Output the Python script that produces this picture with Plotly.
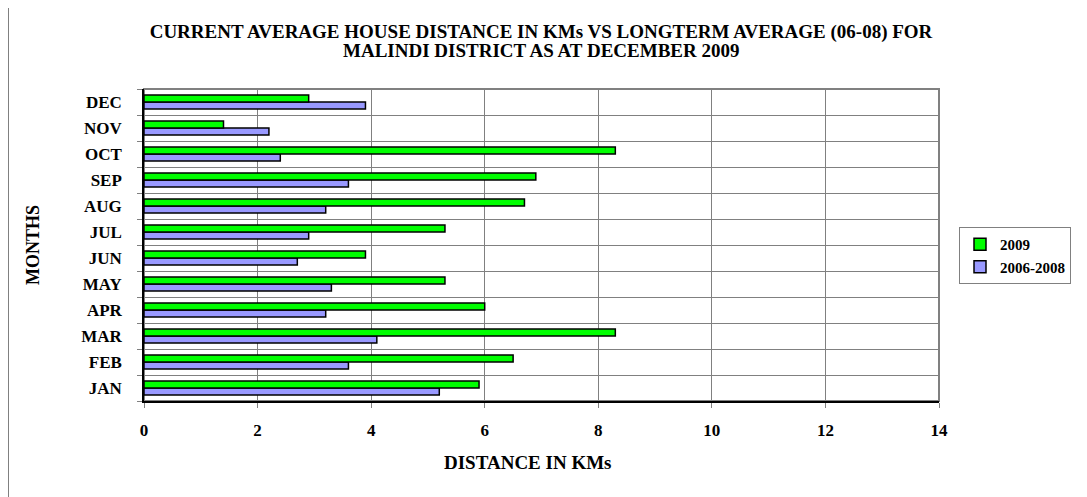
import plotly.graph_objects as go

months = ["JAN", "FEB", "MAR", "APR", "MAY", "JUN", "JUL", "AUG", "SEP", "OCT", "NOV", "DEC"]
y2009 = [5.9, 6.5, 8.3, 6.0, 5.3, 3.9, 5.3, 6.7, 6.9, 8.3, 1.4, 2.9]
y0608 = [5.2, 3.6, 4.1, 3.2, 3.3, 2.7, 2.9, 3.2, 3.6, 2.4, 2.2, 3.9]
xticks = [0, 2, 4, 6, 8, 10, 12, 14]

title_lines = ["CURRENT AVERAGE HOUSE DISTANCE IN KMs VS LONGTERM AVERAGE (06-08) FOR",
               "MALINDI DISTRICT AS AT DECEMBER 2009"]

FONT = "Liberation Serif"
pos = list(range(len(months)))

# page has an 8px body margin: plot area should land at x 144..939, y 89..401
W, H = 1079, 489
L, T = 136, 81
PW, PH = 795, 312

fig = go.Figure()
fig.add_trace(go.Bar(
    y=pos, x=y0608, orientation="h", name="<b>2006-2008</b>",
    marker=dict(color="#9999FF", line=dict(color="black", width=1.5)),
    legendrank=2,
))
fig.add_trace(go.Bar(
    y=pos, x=y2009, orientation="h", name="<b>2009</b>",
    marker=dict(color="#00FF00", line=dict(color="black", width=1.5)),
    legendrank=1,
))

fig.update_layout(
    width=W, height=H,
    margin=dict(l=L, r=W - L - PW, t=T, b=H - T - PH),
    paper_bgcolor="white", plot_bgcolor="white",
    barmode="group", bargap=0.46, bargroupgap=0,
    font=dict(family=FONT, color="black"),
    title=dict(text="<b>" + title_lines[0] + "</b>", x=(541 - 8) / W, xanchor="center",
               y=1 - (31 - 8) / H, yanchor="middle", font=dict(size=19, family=FONT)),
    legend=dict(x=(959 - 144) / PW, xanchor="left", y=(401 - 227) / PH, yanchor="top",
                bordercolor="#808080", borderwidth=1,
                font=dict(size=15, family=FONT), traceorder="normal",
                itemwidth=30),
    showlegend=True,
)

fig.add_annotation(text="<b>" + title_lines[1] + "</b>", xref="paper", yref="paper",
                   x=(541 - 144) / PW, y=(401 - 50) / PH, xanchor="center", yanchor="middle",
                   showarrow=False, font=dict(size=19, family=FONT))

fig.update_xaxes(
    range=[0, 14], tickvals=xticks, ticktext=["<b>%d</b>" % v for v in xticks],
    showgrid=True, gridcolor="#808080", gridwidth=1,
    showline=True, linecolor="black", linewidth=1.5,
    ticks="outside", ticklen=5, tickcolor="#808080",
    tickfont=dict(size=17, family=FONT), ticklabelstandoff=8,
    zeroline=False,
)
fig.update_yaxes(
    range=[-0.5, 11.5], tickvals=pos, ticktext=["<b>%s</b>" % m for m in months],
    showgrid=False, ticks="", tickfont=dict(size=17, family=FONT),
    ticklabelstandoff=17,
    showline=True, linecolor="black", linewidth=1.5, zeroline=False,
    minor=dict(tick0=0.5, dtick=1, showgrid=True, gridcolor="#808080", gridwidth=1,
               ticks="outside", ticklen=5, tickcolor="#808080"),
)

# axis titles
fig.add_annotation(text="<b>DISTANCE IN KMs</b>", xref="paper", yref="paper",
                   x=(528 - 144) / PW, y=(401 - 462) / PH, xanchor="center", yanchor="middle",
                   showarrow=False, font=dict(size=19, family=FONT))
fig.add_annotation(text="<b>MONTHS</b>", xref="paper", yref="paper",
                   x=(33 - 144) / PW, y=0.5, xanchor="center", yanchor="middle",
                   textangle=-90, showarrow=False, font=dict(size=18, family=FONT))

# plot area top/right border (Excel style)
fig.add_shape(type="rect", xref="paper", yref="paper", x0=0, x1=1, y0=0, y1=1,
              line=dict(color="#808080", width=2), layer="below")
# outer chart border (left edge visible)
fig.add_shape(type="line", xref="paper", yref="paper",
              x0=(8.5 - 144) / PW, x1=(8.5 - 144) / PW,
              y0=(401 - 520) / PH, y1=(401 - 0) / PH,
              line=dict(color="#808080", width=1))

fig.write_html("out.html")
